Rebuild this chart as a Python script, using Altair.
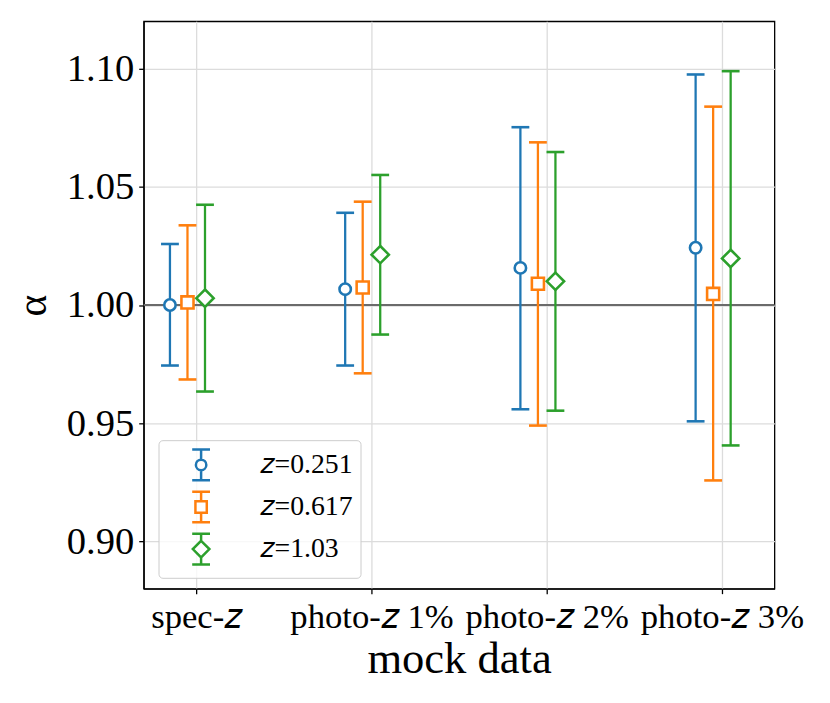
import json
import altair as alt
import pandas as pd

# ---------------- data ----------------
categories = ["spec-𝑧", "photo-𝑧 1%", "photo-𝑧 2%", "photo-𝑧 3%"]
series = ["𝑧=0.251", "𝑧=0.617", "𝑧=1.03"]

alpha_z0251 = [1.0000, 1.0067, 1.0157, 1.0242]
alpha_z0617 = [1.0011, 1.0074, 1.0090, 1.0047]
alpha_z103 = [1.0029, 1.0213, 1.0100, 1.0197]

lo_z0251 = [0.9744, 0.9744, 0.9559, 0.9508]
lo_z0617 = [0.9685, 0.9711, 0.9490, 0.9258]
lo_z103 = [0.9634, 0.9875, 0.9553, 0.9406]

hi_z0251 = [1.0258, 1.0390, 1.0752, 1.0975]
hi_z0617 = [1.0337, 1.0437, 1.0688, 1.0839]
hi_z103 = [1.0424, 1.0550, 1.0647, 1.0989]

y_ticks = [0.90, 0.95, 1.00, 1.05, 1.10]
reference_alpha = [1.0]

# ---------------- styling ----------------
colors = ["#1f77b4", "#ff7f0e", "#2ca02c"]
dodge = [-0.15, -0.05, 0.05]
FONT = "Liberation Serif"

alphas = [alpha_z0251, alpha_z0617, alpha_z103]
los = [lo_z0251, lo_z0617, lo_z103]
his = [hi_z0251, hi_z0617, hi_z103]

rows = []
for si, s in enumerate(series):
    for ci, c in enumerate(categories):
        rows.append({
            "series": s,
            "category": c,
            "xpos": ci + dodge[si],
            "alpha": alphas[si][ci],
            "lo": los[si][ci],
            "hi": his[si][ci],
        })
df = pd.DataFrame(rows)

label_expr = json.dumps(categories) + "[round(datum.value)]"

xscale = alt.Scale(domain=[-0.3, 3.3], nice=False, zero=False)
yscale = alt.Scale(domain=[0.88, 1.12], nice=False, zero=False)

x_enc = alt.X(
    "xpos:Q",
    scale=xscale,
    axis=alt.Axis(
        values=[0, 1, 2, 3],
        labelExpr=label_expr,
        title="mock data",
        labelFontSize=35,
        titleFontSize=45,
        labelPadding=6,
        titlePadding=3,
    ),
)
y_axis = alt.Axis(
    values=y_ticks,
    format=".2f",
    title="α",
    labelFontSize=39,
    titleFontSize=42,
    labelPadding=5,
    titlePadding=12,
)

color_scale = alt.Scale(domain=series, range=colors)
# marker outlines as symbol paths (unit = 5 px at size 100)
marker_paths = [
    "M1.15,0A1.15,1.15,0,1,1,-1.15,0A1.15,1.15,0,1,1,1.15,0Z",
    "M-1.22,-1.22L1.22,-1.22L1.22,1.22L-1.22,1.22Z",
    "M0,-1.75L1.75,0L0,1.75L-1.75,0Z",
]
shape_scale = alt.Scale(domain=series, range=marker_paths)

base = alt.Chart(df)

ref_line = alt.Chart(pd.DataFrame({"alpha": reference_alpha})).mark_rule(
    color="#6b6b6b", strokeWidth=2
).encode(y=alt.Y("alpha:Q", scale=yscale, axis=y_axis))

bars = base.mark_rule(strokeWidth=2.3).encode(
    x=x_enc,
    y=alt.Y("lo:Q", scale=yscale, axis=y_axis),
    y2="hi:Q",
    color=alt.Color("series:N", scale=color_scale, legend=None),
)

cap_lo = base.mark_tick(orient="horizontal", size=18, thickness=2.6, opacity=1).encode(
    x=x_enc,
    y=alt.Y("lo:Q", scale=yscale, axis=y_axis),
    color=alt.Color("series:N", scale=color_scale, legend=None),
)
cap_hi = base.mark_tick(orient="horizontal", size=18, thickness=2.6, opacity=1).encode(
    x=x_enc,
    y=alt.Y("hi:Q", scale=yscale, axis=y_axis),
    color=alt.Color("series:N", scale=color_scale, legend=None),
)

points = base.mark_point(
    filled=False, fill="white", fillOpacity=1, opacity=1, strokeWidth=2.6, size=100
).encode(
    x=x_enc,
    y=alt.Y("alpha:Q", scale=yscale, axis=y_axis),
    color=alt.Color("series:N", scale=color_scale, legend=None),
    shape=alt.Shape("series:N", scale=shape_scale, legend=None),
)

# legend symbols: marker + error bar, drawn as custom symbol paths
leg_paths = [
    "M-0.58,-1L0.58,-1M0,-1L0,-0.34M0,0.34L0,1M-0.58,1L0.58,1"
    "M0.34,0A0.34,0.34,0,1,1,-0.34,0A0.34,0.34,0,1,1,0.34,0Z",
    "M-0.58,-1L0.58,-1M0,-1L0,-0.37M0,0.37L0,1M-0.58,1L0.58,1"
    "M-0.37,-0.37L0.37,-0.37L0.37,0.37L-0.37,0.37Z",
    "M-0.58,-1L0.58,-1M0,-1L0,-0.54M0,0.54L0,1M-0.58,1L0.58,1"
    "M0,-0.54L0.54,0L0,0.54L-0.54,0Z",
]
legend_props = dict(
    title=None,
    orient="none",
    legendX=15,
    legendY=423,
    padding=8,
    rowPadding=0.5,
    symbolSize=961,
    symbolStrokeWidth=2.5,
    symbolOffset=18,
    symbolFillColor="white",
    symbolOpacity=1,
    labelOffset=42,
    labelFont=FONT,
    labelFontSize=28,
    labelColor="black",
    fillColor="rgba(255,255,255,0.8)",
    strokeColor="#cccccc",
    cornerRadius=4,
)
leg_df = pd.DataFrame({"series_leg": series, "xpos": [0.0] * 3, "alpha": [0.5] * 3})
legend_layer = alt.Chart(leg_df).mark_point(
    clip=True, filled=False, fill="white", strokeWidth=2.5, opacity=1
).encode(
    x=x_enc,
    y=alt.Y("alpha:Q", scale=yscale, axis=y_axis),
    color=alt.Color("series_leg:N", scale=alt.Scale(domain=series, range=colors),
                    legend=alt.Legend(**legend_props)),
    shape=alt.Shape("series_leg:N", scale=alt.Scale(domain=series, range=leg_paths),
                    legend=alt.Legend(**legend_props)),
)

chart = alt.layer(ref_line, bars, cap_lo, cap_hi, points, legend_layer).resolve_scale(
    color="independent", shape="independent"
).properties(
    width=637,
    height=573,
    autosize=alt.AutoSizeParams(type="none"),
    padding={"left": 137, "top": 10, "right": 48, "bottom": 112},
    background="white",
).configure_axis(
    labelFont=FONT,
    titleFont=FONT,
    labelColor="black",
    titleColor="black",
    titleFontWeight="normal",
    domainColor="black",
    domainWidth=1.3,
    tickColor="black",
    tickWidth=1.3,
    tickSize=5,
    gridColor="#dcdcdc",
    gridWidth=1.3,
    grid=True,
).configure_view(
    stroke="black",
    strokeWidth=1.3,
)

chart.save("out.html", embed_options={"renderer": "svg", "actions": False})
